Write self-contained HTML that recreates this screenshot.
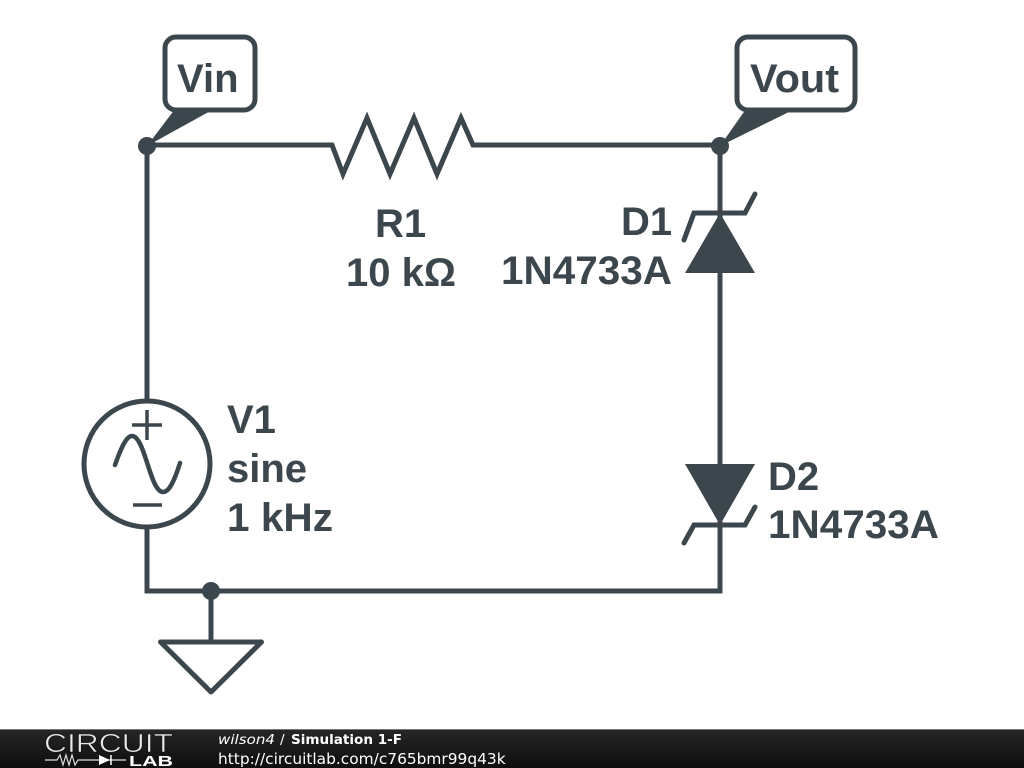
<!DOCTYPE html>
<html>
<head>
<meta charset="utf-8">
<style>
html,body{margin:0;padding:0;background:#fff;width:1024px;height:768px;overflow:hidden}
svg{display:block}
</style>
</head>
<body>
<svg width="1024" height="768" viewBox="0 0 1024 768" xmlns="http://www.w3.org/2000/svg">
<defs>
<linearGradient id="bar" x1="0" y1="0" x2="0" y2="1">
<stop offset="0" stop-color="#262626"/>
<stop offset="0.5" stop-color="#1a1a1a"/>
<stop offset="1" stop-color="#0e0e0e"/>
</linearGradient>
</defs>
<rect width="1024" height="768" fill="#fff"/>
<g fill="none" stroke="#3c474d" stroke-width="5" stroke-linejoin="miter">
<path d="M147 145H332L343 174L367 118L390 174L414 118L437 174L461 118L473 145H720V591H147V529"/>
<path d="M147 145V400"/>
<circle cx="147" cy="464" r="63"/>
<path d="M211 591V642"/>
<path d="M160.5 642H261.5L211 692Z" stroke-linejoin="round"/>
<path d="M684 240L694 213H745L755 194" stroke-linecap="round"/>
<path d="M684 543L694 525H745L755 507" stroke-linecap="round"/>
<path d="M132 425H162M147 410V440" stroke-width="3.5"/>
<path d="M133 505H162" stroke-width="3.5"/>
<path d="M115 465C122 445 127 436 132 436C145 436 150 492 163 492C169 492 174 482 180 463" stroke-width="4.5" stroke-linecap="round"/>
<rect x="165" y="37" width="90" height="73" rx="11"/>
<rect x="737" y="37" width="118" height="73" rx="11"/>
</g>
<g fill="#3c474d">
<circle cx="147" cy="146" r="9"/>
<circle cx="720" cy="146" r="9"/>
<circle cx="211" cy="591" r="9"/>
<path d="M147 146L175 109H214Z"/>
<path d="M720 146L746 109H795Z"/>
<path d="M720 213L755 273H685Z"/>
<path d="M685 464H755L720 525Z"/>
</g>
<g font-family="'Liberation Sans',sans-serif" font-weight="700" font-size="40" fill="#3c474d">
<text x="177" y="92">Vin</text>
<text x="750" y="92" textLength="89" lengthAdjust="spacingAndGlyphs">Vout</text>
<text x="375" y="237">R1</text>
<text x="346" y="286">10 kΩ</text>
<text x="621" y="235">D1</text>
<text x="501" y="284" textLength="171" lengthAdjust="spacingAndGlyphs">1N4733A</text>
<text x="227" y="433">V1</text>
<text x="227" y="482">sine</text>
<text x="227" y="531" textLength="106" lengthAdjust="spacingAndGlyphs">1 kHz</text>
<text x="768" y="490">D2</text>
<text x="768" y="538" textLength="171" lengthAdjust="spacingAndGlyphs">1N4733A</text>
</g>
<rect x="0" y="729" width="1024" height="39" fill="url(#bar)"/>
<rect x="0" y="729" width="1024" height="1" fill="#777"/>
<text x="44" y="752" font-family="'Liberation Sans',sans-serif" font-size="26" fill="#e8e8e8" textLength="129" lengthAdjust="spacingAndGlyphs" stroke="#111" stroke-width="0.6">CIRCUIT</text>
<g fill="none" stroke="#ddd" stroke-width="1.2">
<path d="M45 760H57L60 755L63 765L66 755L69 765L72 755L75 765L78 760H126"/>
</g>
<path d="M99 755L110 760L99 765Z" fill="#fff"/>
<path d="M111 755V765" stroke="#fff" stroke-width="1.5"/>
<text x="129" y="766" font-family="'Liberation Sans',sans-serif" font-weight="700" font-size="15" fill="#fff" textLength="44" lengthAdjust="spacingAndGlyphs">LAB</text>
<g font-family="'DejaVu Sans',sans-serif" fill="#fff" font-size="13.7">
<text x="218" y="744" font-style="italic" textLength="57" lengthAdjust="spacingAndGlyphs">wilson4</text>
<text x="280" y="744">/</text>
<text x="291" y="744" font-weight="700" textLength="111" lengthAdjust="spacingAndGlyphs">Simulation 1-F</text>
</g>
<text x="218" y="764" font-family="'DejaVu Sans',sans-serif" font-size="15.4" fill="#fff">http://circuitlab.com/c765bmr99q43k</text>
</svg>
</body>
</html>
